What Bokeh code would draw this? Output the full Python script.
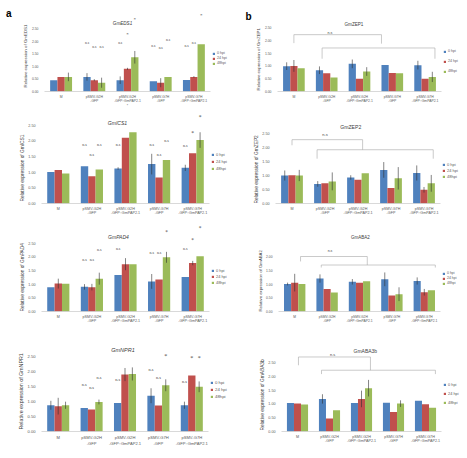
import numpy as np
from bokeh.plotting import figure
from bokeh.models import (Range1d, FixedTicker, Legend, LegendItem, ColumnDataSource,
                          LabelSet, Label, Arrow, Title, LinearAxis)
from bokeh.layouts import column, row
from bokeh.embed import file_html
from bokeh.resources import INLINE

# ---------------- data ----------------
categories = ["M", "pSMV-G2H\n-GFP", "pSMV-G2H\n-GFP::GmPAP2.1",
              "pSMV-G7H\n-GFP", "pSMV-G7H\n-GFP::GmPAP2.1"]
series = ["0 hpi", "24 hpi", "48hpi"]
ticks_25 = [0.0, 0.5, 1.0, 1.5, 2.0, 2.5]
ticks_20 = [0.0, 0.5, 1.0, 1.5, 2.0]

# panel a : GmEDS1
eds1_0h = [0.45, 0.58, 0.45, 0.41, 0.46]
eds1_24h = [0.58, 0.45, 0.90, 0.35, 0.58]
eds1_48h = [0.58, 0.35, 1.36, 0.58, 1.88]
eds1_err0 = [0.0, 0.15, 0.15, 0.0, 0.0]
eds1_err24 = [0.0, 0.04, 0.04, 0.18, 0.03]
eds1_err48 = [0.17, 0.2, 0.25, 0.0, 0.0]
eds1_ann_grp = [2, 2, 2, 3, 3, 3, 4, 4, 4, 5, 5, 5]
eds1_ann_ser = [0, 1, 2, 0, 1, 2, 0, 1, 2, 0, 1, 2]
eds1_ann_y = [1.91, 1.78, 1.78, 1.91, 2.27, 2.87, 1.82, 1.72, 2.04, 1.82, 1.91, 3.0]
eds1_ann_txt = ["n.s", "n.s", "n.s", "n.s", "*", "*", "n.s", "n.s", "n.s", "n.s", "n.s", "*"]
eds1_cat_mark = ["", "", "*", "", ""]

# GmICS1
ics1_0h = [1.01, 1.19, 1.12, 1.26, 1.14]
ics1_24h = [1.07, 0.87, 2.10, 0.83, 1.61]
ics1_48h = [0.96, 1.09, 2.28, 1.39, 2.03]
ics1_err0 = [0.0, 0.0, 0.04, 0.33, 0.1]
ics1_err24 = [0.0, 0.0, 0.0, 0.0, 0.0]
ics1_err48 = [0.0, 0.0, 0.0, 0.0, 0.25]
ics1_ann_grp = [2, 2, 2, 3, 4, 4, 4, 5, 5, 5]
ics1_ann_ser = [0, 1, 2, 0, 0, 1, 2, 0, 1, 2]
ics1_ann_y = [1.90, 1.58, 1.90, 1.90, 1.90, 1.58, 2.0, 1.85, 2.26, 2.76]
ics1_ann_txt = ["n.s", "n.s", "n.s", "n.s", "n.s", "n.s", "n.s", "n.s", "*", "*"]

# GmPAD4
pad4_0h = [0.89, 0.90, 1.33, 1.10, 1.26]
pad4_24h = [1.02, 0.89, 1.73, 1.17, 1.77]
pad4_48h = [1.01, 1.20, 1.73, 1.98, 2.02]
pad4_err0 = [0.0, 0.1, 0.0, 0.27, 0.0]
pad4_err24 = [0.18, 0.12, 0.22, 0.0, 0.08]
pad4_err48 = [0.0, 0.22, 0.0, 0.2, 0.0]
pad4_ann_grp = [2, 2, 2, 3, 4, 4, 4, 5, 5, 5]
pad4_ann_ser = [0, 1, 2, 0, 0, 1, 2, 0, 1, 2]
pad4_ann_y = [1.90, 1.90, 2.26, 2.30, 2.12, 2.12, 2.92, 2.27, 2.63, 3.06]
pad4_ann_txt = ["n.s", "n.s", "n.s", "n.s", "n.s", "n.s", "*", "n.s", "*", "*"]

# GmNPR1
npr1_0h = [0.88, 0.79, 0.96, 1.20, 0.88]
npr1_24h = [0.85, 0.74, 1.91, 0.87, 1.88]
npr1_48h = [0.88, 0.99, 1.93, 1.55, 1.50]
npr1_err0 = [0.15, 0.0, 0.0, 0.25, 0.12]
npr1_err24 = [0.28, 0.0, 0.22, 0.0, 0.0]
npr1_err48 = [0.12, 0.08, 0.22, 0.2, 0.18]
npr1_ann_grp = [2, 2, 2, 3, 4, 4, 4, 5, 5, 5]
npr1_ann_ser = [0, 1, 2, 0, 0, 1, 2, 0, 1, 2]
npr1_ann_y = [1.58, 1.48, 1.82, 1.75, 2.07, 1.82, 2.52, 1.69, 2.48, 2.48]
npr1_ann_txt = ["n.s", "n.s", "n.s", "n.s", "n.s", "n.s", "*", "n.s", "*", "*"]

# panel b : GmZEP1
zep1_0h = [0.99, 0.83, 1.08, 1.04, 1.03]
zep1_24h = [1.00, 0.71, 0.50, 0.72, 0.50]
zep1_48h = [0.91, 0.55, 0.78, 0.71, 0.57]
zep1_err0 = [0.15, 0.15, 0.17, 0.0, 0.17]
zep1_err24 = [0.23, 0.0, 0.0, 0.0, 0.0]
zep1_err48 = [0.0, 0.0, 0.17, 0.0, 0.2]
zep1_brk_x = [[1.0, 1.0, 3.67, 3.67], [1.86, 1.86, 5.3, 5.3]]
zep1_brk_y = [[1.89, 2.22, 2.22, 1.87], [1.28, 1.70, 1.70, 1.28]]
zep1_ns = [2.1, 2.3]

# GmZEP2
zep2_0h = [1.00, 0.70, 0.93, 1.20, 1.09]
zep2_24h = [1.01, 0.72, 0.85, 0.55, 0.49]
zep2_48h = [1.00, 0.79, 1.08, 0.90, 0.72]
zep2_err0 = [0.18, 0.1, 0.08, 0.28, 0.27]
zep2_err24 = [0.0, 0.0, 0.0, 0.0, 0.1]
zep2_err48 = [0.2, 0.32, 0.0, 0.4, 0.3]
zep2_brk_x = [[1.0, 1.0, 3.14, 3.14], [1.76, 1.76, 5.28, 5.28]]
zep2_brk_y = [[2.08, 2.28, 2.28, 1.92], [1.6, 1.92, 1.92, 1.6]]
zep2_ns = [2.0, 2.45]

# GmABA2
aba2_0h = [1.00, 1.20, 1.08, 1.17, 1.11]
aba2_24h = [1.05, 0.82, 1.05, 0.58, 0.70]
aba2_48h = [1.00, 0.69, 1.10, 0.63, 0.77]
aba2_err0 = [0.05, 0.15, 0.1, 0.25, 0.13]
aba2_err24 = [0.32, 0.0, 0.0, 0.0, 0.12]
aba2_err48 = [0.0, 0.0, 0.0, 0.25, 0.0]
aba2_brk_x = [[1.18, 1.18, 3.24, 3.24], [1.82, 1.82, 5.34, 5.34]]
aba2_brk_y = [[1.82, 2.0, 2.0, 1.69], [1.6, 1.69, 1.69, 1.6]]
aba2_ns = [2.09, 2.2]

# GmABA3b
aba3_0h = [1.03, 1.18, 1.03, 1.04, 1.11]
aba3_24h = [1.01, 0.47, 1.18, 0.71, 0.99]
aba3_48h = [0.98, 0.77, 1.57, 1.01, 0.86]
aba3_err0 = [0.0, 0.17, 0.0, 0.0, 0.0]
aba3_err24 = [0.0, 0.0, 0.3, 0.0, 0.0]
aba3_err48 = [0.0, 0.0, 0.3, 0.12, 0.0]
aba3_brk_x = [[1.03, 1.03, 3.28, 3.28], [1.75, 1.75, 5.31, 5.31]]
aba3_brk_y = [[2.4, 2.7, 2.7, 2.22], [2.08, 2.22, 2.22, 2.08]]
aba3_ns = [2.1, 2.8]

# ---------------- style ----------------
COLORS = ["#4F81BD", "#C0504D", "#9BBB59"]
OFFS = [-0.22, 0.0, 0.22]
BW = 0.22
FONT = "Liberation Sans"
GREY = "#595959"
DARK = "#404040"


def fpx(v):
    return "%.1fpx" % v


def make_panel(gene, italic, vals, errs, ticks, geo, ann=None, brk=None, ns=None,
               tag=None, cat_mark=None):
    W, H, L, R, B, axis_px, s = geo["box"]
    fw = W - L - R
    ppu = fw / 5.0
    x_end = 5.5 + (R - 1) / ppu
    fh = H - B
    ymax = fh * ticks[-1] / axis_px
    p = figure(width=W, height=H, x_range=Range1d(0.5, x_end), y_range=Range1d(0, ymax),
               output_backend="svg", toolbar_location=None, title=None,
               min_border_left=L, min_border_right=1, min_border_top=0, min_border_bottom=B)
    p.outline_line_color = None
    p.xgrid.visible = False
    p.ygrid.visible = False

    idx = np.arange(1, 6)
    items = []
    for k in range(3):
        x = idx + OFFS[k]
        v = np.array(vals[k])
        e = np.array(errs[k])
        r = p.vbar(x=x, top=v, width=BW, color=COLORS[k], line_color=None)
        items.append(LegendItem(label=series[k], renderers=[r]))
        p.segment(x0=x, y0=v - e, x1=x, y1=v + e, line_color="#303030", line_width=0.6)

    lh = 3
    n_sp = geo["leg_sp"]
    leg_h = 3 * lh + 2 * n_sp
    leg = Legend(items=items, location=(fw + 2, int(round(geo["leg_cy"] - leg_h / 2))),
                 margin=0, padding=0, spacing=n_sp,
                 glyph_width=3, glyph_height=3, label_standoff=2,
                 label_height=lh, label_width=8,
                 label_text_font=FONT, label_text_font_size=fpx(3.6 * s),
                 label_text_color=GREY, label_text_baseline="middle",
                 border_line_color=None, background_fill_alpha=0)
    p.add_layout(leg)

    labels = list(categories)
    if cat_mark is not None:
        labels = [c + ("\n" + m if m else "") for c, m in zip(categories, cat_mark)]
    xa = p.xaxis[0]
    xa.bounds = (0.5, 5.5)
    xa.ticker = FixedTicker(ticks=[1, 2, 3, 4, 5])
    xa.major_label_overrides = {i: labels[i - 1] for i in range(1, 6)}
    xa.major_label_text_font = FONT
    xa.major_label_text_font_size = fpx(3.4 * s)
    xa.major_label_text_color = GREY
    xa.major_tick_line_color = None
    xa.minor_tick_line_color = None
    xa.major_tick_out = 0
    xa.minor_tick_out = 0
    xa.axis_line_color = "#BFBFBF"
    xa.axis_line_width = 0.6
    xa.major_label_standoff = 3

    ya = p.yaxis[0]
    ya.ticker = FixedTicker(ticks=ticks)
    ya.major_label_overrides = {t: "%.2f" % t for t in ticks}
    ya.major_label_text_font = FONT
    ya.major_label_text_font_size = fpx(3.4 * s)
    ya.major_label_text_color = GREY
    ya.major_tick_line_color = None
    ya.minor_tick_line_color = None
    ya.major_tick_out = 0
    ya.minor_tick_out = 0
    ya.axis_line_color = None
    ya.major_label_standoff = 6
    p.add_layout(Title(text="Relative expression of " + gene, align="left",
                       offset=geo["ylab_off"], standoff=2, text_font=FONT,
                       text_font_size=fpx(4.4 * s), text_font_style="normal",
                       text_color=DARK), "left")

    if tag is not None:
        t, ty, sd = tag
        tag_ax = LinearAxis(ticker=FixedTicker(ticks=[ty]), major_label_overrides={ty: t},
                            axis_line_color=None, major_tick_line_color=None,
                            minor_tick_line_color=None, major_tick_out=0, minor_tick_out=0,
                            major_label_standoff=sd, major_label_text_font=FONT,
                            major_label_text_font_size="10px",
                            major_label_text_font_style="bold",
                            major_label_text_color="#000000")
        p.add_layout(tag_ax, "left")

    # gene title inside the plot area
    tx, ty = geo["title_xy"]
    p.add_layout(Label(x=tx, y=ty, text=gene, text_align="center", text_baseline="middle",
                       text_font=FONT, text_font_size=fpx(4.6 * s),
                       text_font_style="italic" if italic else "normal", text_color=DARK))

    if ann is not None:
        grp, ser, ys, txt = ann
        ax = [g + OFFS[k] for g, k in zip(grp, ser)]
        ns_src = ColumnDataSource(dict(x=[a for a, t in zip(ax, txt) if t != "*"],
                                       y=[a for a, t in zip(ys, txt) if t != "*"],
                                       t=[t for t in txt if t != "*"]))
        st_src = ColumnDataSource(dict(x=[a for a, t in zip(ax, txt) if t == "*"],
                                       y=[a for a, t in zip(ys, txt) if t == "*"],
                                       t=[t for t in txt if t == "*"]))
        p.add_layout(LabelSet(x="x", y="y", text="t", source=ns_src, text_align="center",
                              text_baseline="middle", text_font=FONT,
                              text_font_size=fpx(3.6 * s), text_color=DARK))
        p.add_layout(LabelSet(x="x", y="y", text="t", source=st_src, text_align="center",
                              text_baseline="middle", text_font=FONT,
                              text_font_size=fpx(5.0 * s), text_color=DARK))
    if brk is not None:
        bx, by = brk
        x0, y0, x1, y1 = [], [], [], []
        for xs, ys in zip(bx, by):
            for k in range(len(xs) - 1):
                x0.append(xs[k]); y0.append(ys[k]); x1.append(xs[k + 1]); y1.append(ys[k + 1])
        src = ColumnDataSource(dict(x0=x0, y0=y0, x1=x1, y1=y1))
        p.add_layout(Arrow(end=None, x_start="x0", y_start="y0", x_end="x1", y_end="y1",
                           source=src, line_color="#A6A6A6", line_width=0.6))
        p.add_layout(Label(x=ns[0], y=ns[1], text="n.s", text_align="center",
                           text_baseline="middle", text_font=FONT,
                           text_font_size=fpx(3.6 * s), text_color=DARK))
    return p


# geometry: box = (W, H, L, R, B, pixels from 0 to top tick, font scale)
GEO = {
    "a1": dict(box=(233, 112, 44, 23, 18, 65, 1.0), leg_cy=31, leg_sp=1, ylab_off=4,
               title_xy=(2.85, 2.69)),
    "b1": dict(box=(234, 112, 44, 26, 21, 64, 1.0), leg_cy=28, leg_sp=6, ylab_off=1,
               title_xy=(2.83, 2.62)),
    "a2": dict(box=(233, 113, 41, 24, 21, 79, 1.1), leg_cy=38, leg_sp=2, ylab_off=2,
               title_xy=(2.76, 2.59)),
    "b2": dict(box=(234, 113, 42, 27, 22, 70, 1.1), leg_cy=29, leg_sp=1, ylab_off=0,
               title_xy=(2.78, 2.75)),
    "a3": dict(box=(233, 115, 41, 24, 27, 70, 1.08), leg_cy=32, leg_sp=1, ylab_off=0,
               title_xy=(2.79, 2.71)),
    "b3": dict(box=(234, 115, 45, 27, 29, 55, 0.98), leg_cy=32, leg_sp=1, ylab_off=0,
               title_xy=(3.03, 2.69)),
    "a4": dict(box=(233, 118, 41, 25, 24, 77, 1.2), leg_cy=38, leg_sp=2, ylab_off=2,
               title_xy=(2.94, 2.73)),
    "b4": dict(box=(234, 118, 48, 26, 27, 69, 1.08), leg_cy=35, leg_sp=4, ylab_off=1,
               title_xy=(3.12, 2.93)),
}

a1 = make_panel("GmEDS1", True, [eds1_0h, eds1_24h, eds1_48h], [eds1_err0, eds1_err24, eds1_err48],
                ticks_25, GEO["a1"], ann=(eds1_ann_grp, eds1_ann_ser, eds1_ann_y, eds1_ann_txt),
                tag=("a", 3.08, 8), cat_mark=eds1_cat_mark)
b1 = make_panel("GmZEP1", False, [zep1_0h, zep1_24h, zep1_48h], [zep1_err0, zep1_err24, zep1_err48],
                ticks_25, GEO["b1"], brk=(zep1_brk_x, zep1_brk_y), ns=zep1_ns, tag=("b", 2.93, 1))
a2 = make_panel("GmICS1", True, [ics1_0h, ics1_24h, ics1_48h], [ics1_err0, ics1_err24, ics1_err48],
                ticks_25, GEO["a2"], ann=(ics1_ann_grp, ics1_ann_ser, ics1_ann_y, ics1_ann_txt))
b2 = make_panel("GmZEP2", False, [zep2_0h, zep2_24h, zep2_48h], [zep2_err0, zep2_err24, zep2_err48],
                ticks_25, GEO["b2"], brk=(zep2_brk_x, zep2_brk_y), ns=zep2_ns)
a3 = make_panel("GmPAD4", True, [pad4_0h, pad4_24h, pad4_48h], [pad4_err0, pad4_err24, pad4_err48],
                ticks_25, GEO["a3"], ann=(pad4_ann_grp, pad4_ann_ser, pad4_ann_y, pad4_ann_txt))
b3 = make_panel("GmABA2", False, [aba2_0h, aba2_24h, aba2_48h], [aba2_err0, aba2_err24, aba2_err48],
                ticks_20, GEO["b3"], brk=(aba2_brk_x, aba2_brk_y), ns=aba2_ns)
a4 = make_panel("GmNPR1", True, [npr1_0h, npr1_24h, npr1_48h], [npr1_err0, npr1_err24, npr1_err48],
                ticks_25, GEO["a4"], ann=(npr1_ann_grp, npr1_ann_ser, npr1_ann_y, npr1_ann_txt))
b4 = make_panel("GmABA3b", False, [aba3_0h, aba3_24h, aba3_48h], [aba3_err0, aba3_err24, aba3_err48],
                ticks_25, GEO["b4"], brk=(aba3_brk_x, aba3_brk_y), ns=aba3_ns)

layout = column(row(a1, b1, spacing=0), row(a2, b2, spacing=0),
                row(a3, b3, spacing=0), row(a4, b4, spacing=0), spacing=0)

open("out.html", "w").write(file_html(layout, INLINE))
